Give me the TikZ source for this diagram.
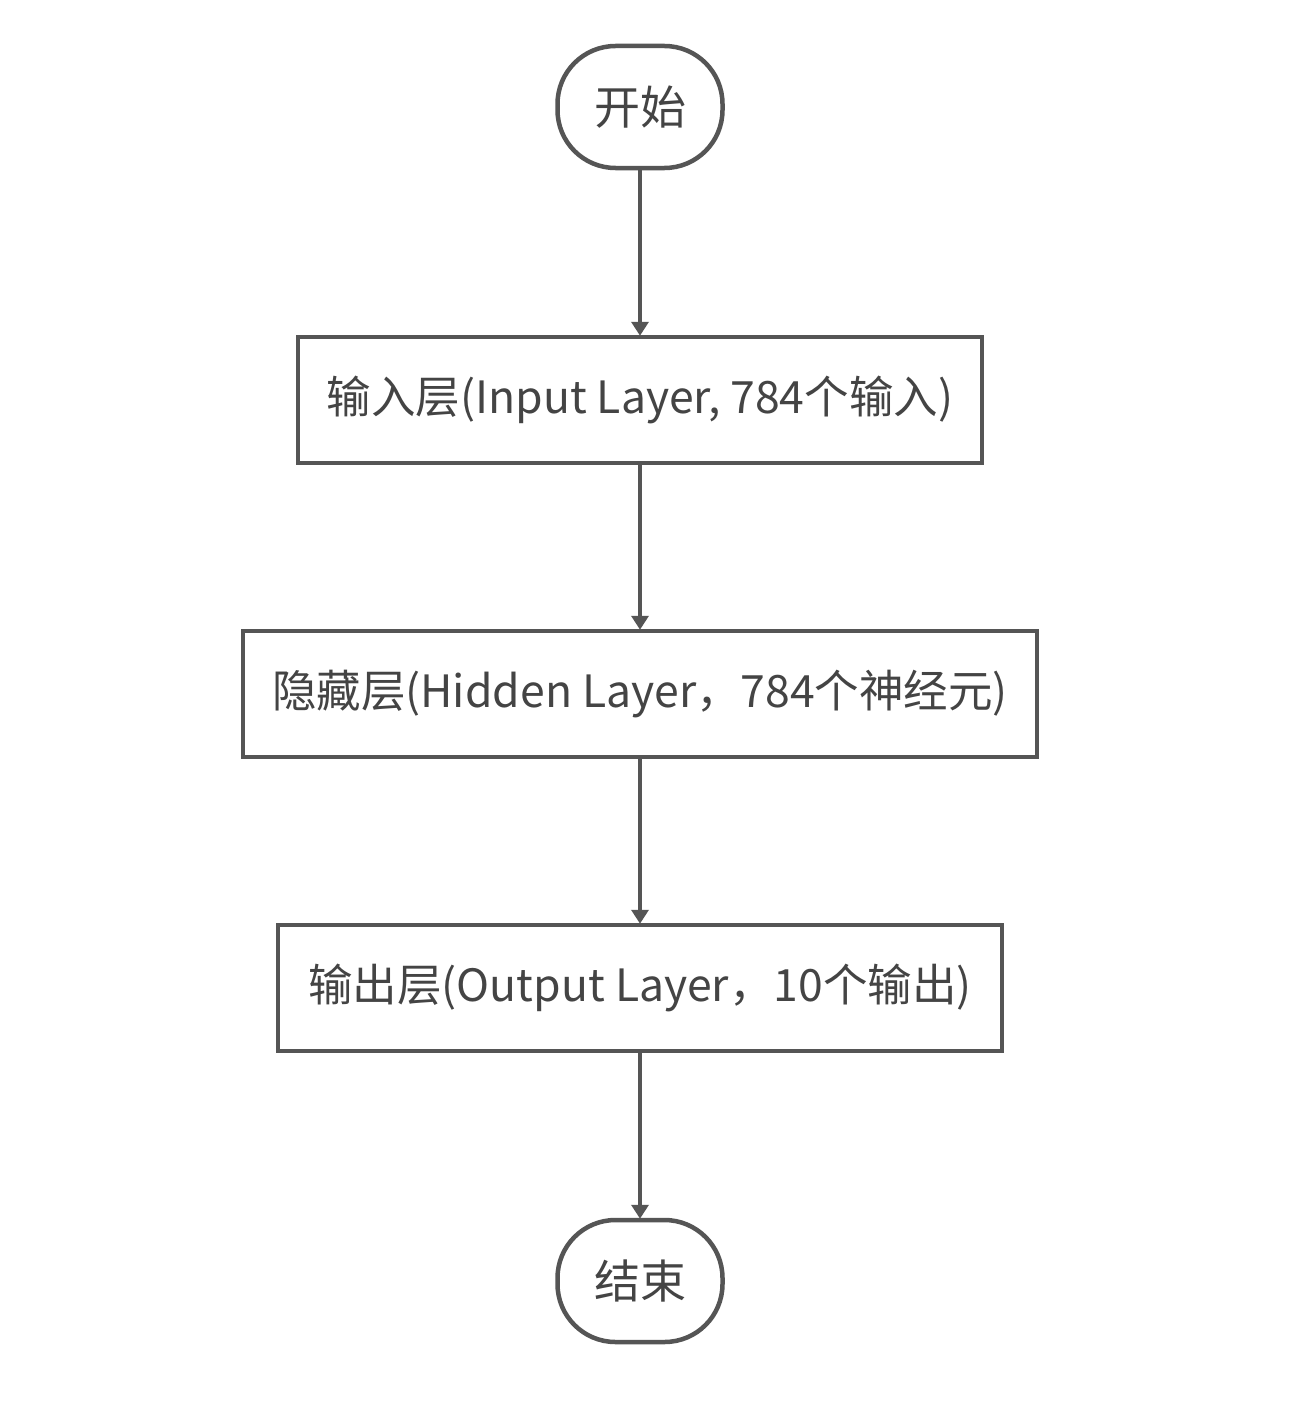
\documentclass[tikz,border=0pt]{standalone}
\usepackage{fontspec}
\setmainfont{Noto Sans CJK SC}
\usetikzlibrary{arrows.meta}
\definecolor{linegray}{HTML}{555555}
\definecolor{textgray}{HTML}{444444}
\tikzset{
  box/.style={draw=linegray, line width=4.5pt, fill=white, inner sep=0pt, minimum height=126pt, text=textgray, font=\fontsize{44.5pt}{48pt}\selectfont},
  term/.style={box, rounded corners=58pt, minimum width=165pt, minimum height=122pt, font=\fontsize{46pt}{50pt}\selectfont},
  flow/.style={draw=linegray, line width=4.5pt, -{Triangle[width=17pt,length=14pt]}, shorten >=-1pt}
}
\begin{document}
\begin{tikzpicture}[x=1pt,y=-1pt]
\useasboundingbox[fill=white] (0,0) rectangle (1293,1402);
\node[term] (start) at (640,107) {开始};
\node[box, minimum width=684pt] (input) at (640,400) {输入层(Input Layer, 784个输入)};
\node[box, minimum width=794pt] (hidden) at (640,694) {隐藏层(Hidden Layer，784个神经元)};
\node[box, minimum width=724pt] (output) at (640,988) {输出层(Output Layer，10个输出)};
\node[term] (end) at (640,1281) {结束};
\draw[flow] (start) -- (input);
\draw[flow] (input) -- (hidden);
\draw[flow] (hidden) -- (output);
\draw[flow] (output) -- (end);
\end{tikzpicture}
\end{document}
